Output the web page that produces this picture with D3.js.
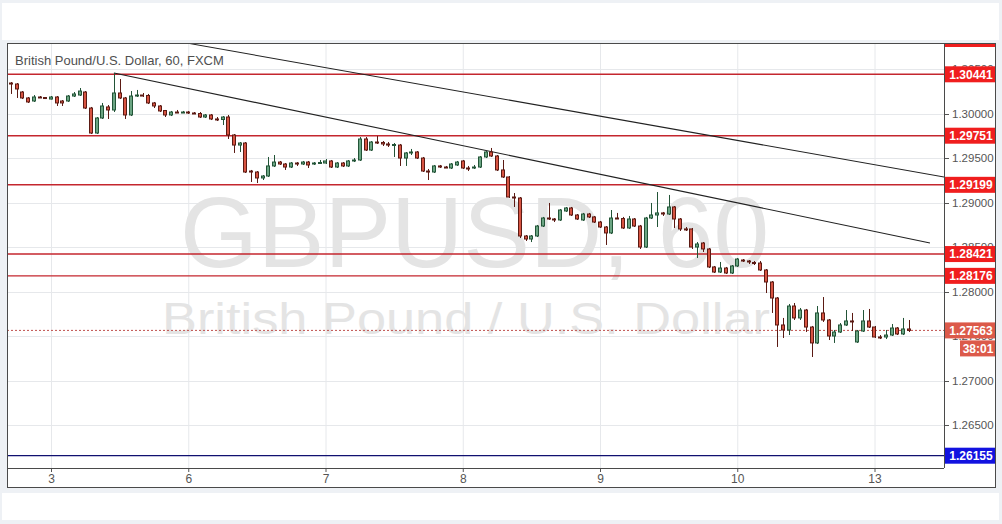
<!DOCTYPE html>
<html><head><meta charset="utf-8">
<script src="https://cdn.jsdelivr.net/npm/d3@7"></script>
<style>
html,body{margin:0;padding:0;background:#eef1f5;}
svg{display:block;font-family:"Liberation Sans",Arial,sans-serif;}
</style></head>
<body>
<svg id="c" width="1002" height="524"></svg>
<script>
// ---- data ----
const dayLabels = ["3","6","7","8","9","10","13"];
const dayIndex  = [7,31,55,79,103,127,151];
const priceTicks = [1.265,1.270,1.275,1.280,1.285,1.290,1.295,1.300,1.305];
const levelPrices = [1.30441,1.29751,1.29199,1.28421,1.28176];
const supportPrice = 1.26155;
const lastPrice = 1.27563;
const countdown = "38:01";
const title = "British Pound/U.S. Dollar, 60, FXCM";
const wmSymbol = "GBPUSD, 60";
const wmName = "British Pound / U.S. Dollar";
// trend lines: [barIndex, price]
const trendA = [[18,1.30456],[160.7,1.28545]];
const trendB = [[31,1.30789],[163.2,1.29287]];

const open = [1.30343,1.30332,1.30242,1.30175,1.30141,1.30186,1.30180,1.30163,1.30186,1.30141,
1.30141,1.30197,1.30208,1.30242,1.30062,1.29781,1.29950,1.30074,1.30040,1.30231,
1.30175,1.29984,1.30197,1.30208,1.30203,1.30119,1.30085,1.30034,1.29984,1.30017,
1.30012,1.30017,1.30006,1.30000,1.29961,1.29984,1.29939,1.29933,1.29961,1.29759,
1.29646,1.29669,1.29354,1.29343,1.29276,1.29298,1.29411,1.29455,1.29433,1.29399,
1.29444,1.29433,1.29455,1.29433,1.29444,1.29444,1.29467,1.29399,1.29444,1.29411,
1.29467,1.29478,1.29714,1.29590,1.29680,1.29675,1.29658,1.29646,1.29646,1.29500,
1.29557,1.29568,1.29500,1.29354,1.29343,1.29411,1.29399,1.29388,1.29422,1.29467,
1.29388,1.29388,1.29399,1.29512,1.29568,1.29523,1.29366,1.29287,1.29062,1.29051,
1.28624,1.28590,1.28624,1.28736,1.28826,1.28815,1.28804,1.28905,1.28939,1.28860,
1.28804,1.28871,1.28838,1.28781,1.28725,1.28658,1.28826,1.28820,1.28714,1.28815,
1.28736,1.28500,1.28826,1.28860,1.28883,1.28871,1.28950,1.28815,1.28703,1.28703,
1.28500,1.28545,1.28478,1.28276,1.28219,1.28264,1.28208,1.28287,1.28354,1.28343,
1.28326,1.28320,1.28242,1.28107,1.27927,1.27624,1.27568,1.27837,1.27703,1.27792,
1.27601,1.27422,1.27759,1.27680,1.27500,1.27545,1.27624,1.27669,1.27433,1.27556,
1.27669,1.27601,1.27489,1.27489,1.27511,1.27590,1.27523,1.27579];
const high = [1.30354,1.30343,1.30253,1.30186,1.30208,1.30197,1.30186,1.30197,1.30197,1.30152,
1.30208,1.30242,1.30287,1.30253,1.30074,1.29961,1.30119,1.30096,1.30456,1.30388,
1.30186,1.30253,1.30265,1.30231,1.30220,1.30130,1.30096,1.30040,1.30029,1.30040,
1.30029,1.30029,1.30017,1.30017,1.29995,1.29995,1.29961,1.29972,1.29984,1.29770,
1.29680,1.29680,1.29366,1.29354,1.29309,1.29512,1.29534,1.29467,1.29444,1.29455,
1.29455,1.29467,1.29467,1.29455,1.29478,1.29489,1.29478,1.29455,1.29455,1.29478,
1.29500,1.29736,1.29736,1.29691,1.29748,1.29691,1.29680,1.29669,1.29658,1.29568,
1.29602,1.29579,1.29512,1.29377,1.29422,1.29422,1.29411,1.29444,1.29467,1.29478,
1.29411,1.29422,1.29523,1.29579,1.29613,1.29534,1.29478,1.29298,1.29107,1.29062,
1.28635,1.28635,1.28748,1.28838,1.28995,1.28826,1.28927,1.28950,1.28950,1.28871,
1.28883,1.28883,1.28849,1.28793,1.28736,1.28916,1.28883,1.28838,1.28849,1.28826,
1.28748,1.28838,1.28995,1.29118,1.28894,1.29085,1.28961,1.28826,1.28725,1.28714,
1.28556,1.28556,1.28489,1.28287,1.28332,1.28276,1.28298,1.28377,1.28365,1.28354,
1.28343,1.28343,1.28253,1.28118,1.27938,1.27703,1.27860,1.27871,1.27815,1.27804,
1.27613,1.27837,1.27938,1.27691,1.27568,1.27646,1.27792,1.27759,1.27568,1.27792,
1.27804,1.27613,1.27511,1.27568,1.27635,1.27601,1.27703,1.27680];
const low = [1.30220,1.30175,1.30163,1.30119,1.30130,1.30175,1.30163,1.30158,1.30085,1.30085,
1.30130,1.30186,1.30197,1.30051,1.29770,1.29770,1.29939,1.29939,1.30017,1.30163,
1.29939,1.29972,1.30186,1.30186,1.30107,1.30062,1.30017,1.29961,1.29972,1.30006,
1.30006,1.29995,1.29995,1.29950,1.29950,1.29927,1.29916,1.29871,1.29714,1.29557,
1.29568,1.29332,1.29231,1.29219,1.29253,1.29287,1.29399,1.29422,1.29366,1.29388,
1.29411,1.29422,1.29388,1.29422,1.29433,1.29433,1.29388,1.29388,1.29399,1.29399,
1.29455,1.29467,1.29579,1.29579,1.29658,1.29635,1.29624,1.29512,1.29411,1.29411,
1.29534,1.29489,1.29343,1.29253,1.29332,1.29388,1.29388,1.29377,1.29411,1.29377,
1.29354,1.29377,1.29388,1.29500,1.29512,1.29354,1.29276,1.29051,1.28950,1.28601,
1.28568,1.28556,1.28612,1.28725,1.28804,1.28781,1.28793,1.28894,1.28849,1.28804,
1.28793,1.28826,1.28770,1.28714,1.28523,1.28646,1.28815,1.28703,1.28703,1.28725,
1.28478,1.28489,1.28815,1.28725,1.28849,1.28860,1.28714,1.28680,1.28680,1.28478,
1.28377,1.28444,1.28264,1.28208,1.28208,1.28197,1.28197,1.28276,1.28332,1.28309,
1.28298,1.28231,1.27983,1.27759,1.27377,1.27478,1.27511,1.27680,1.27680,1.27545,
1.27264,1.27410,1.27658,1.27455,1.27422,1.27534,1.27613,1.27556,1.27422,1.27545,
1.27590,1.27478,1.27466,1.27466,1.27500,1.27511,1.27511,1.27545];
const close = [1.30338,1.30276,1.30175,1.30130,1.30186,1.30180,1.30169,1.30186,1.30119,1.30119,
1.30197,1.30220,1.30253,1.30062,1.29781,1.29950,1.30085,1.30040,1.30231,1.30175,
1.29984,1.30197,1.30208,1.30203,1.30119,1.30085,1.30029,1.29984,1.30017,1.30012,
1.30017,1.30006,1.30000,1.29961,1.29984,1.29939,1.29933,1.29961,1.29759,1.29646,
1.29669,1.29343,1.29343,1.29276,1.29298,1.29411,1.29455,1.29433,1.29399,1.29444,
1.29433,1.29455,1.29422,1.29444,1.29450,1.29467,1.29399,1.29444,1.29411,1.29467,
1.29478,1.29714,1.29590,1.29680,1.29675,1.29658,1.29646,1.29652,1.29500,1.29557,
1.29568,1.29500,1.29354,1.29343,1.29411,1.29399,1.29394,1.29433,1.29455,1.29388,
1.29377,1.29399,1.29512,1.29568,1.29523,1.29366,1.29287,1.29062,1.29051,1.28624,
1.28590,1.28624,1.28736,1.28826,1.28815,1.28804,1.28916,1.28939,1.28860,1.28815,
1.28871,1.28838,1.28781,1.28725,1.28658,1.28826,1.28820,1.28714,1.28815,1.28736,
1.28500,1.28826,1.28860,1.28883,1.28871,1.28950,1.28815,1.28703,1.28700,1.28500,
1.28534,1.28478,1.28276,1.28219,1.28264,1.28208,1.28287,1.28365,1.28343,1.28332,
1.28320,1.28242,1.28107,1.27927,1.27624,1.27568,1.27837,1.27703,1.27792,1.27601,
1.27422,1.27759,1.27680,1.27500,1.27545,1.27624,1.27669,1.27663,1.27556,1.27669,
1.27601,1.27489,1.27483,1.27511,1.27590,1.27523,1.27579,1.27563];

// ---- layout ----
const svg = d3.select("#c");
const P = {l:7, t:43, r:944, b:468, outerR:996, outerB:488};
const x = d3.scaleLinear().domain([dayIndex[0], dayIndex[dayIndex.length-1]]).range([51, 874.5]);
const y = d3.scaleLinear().domain([supportPrice, levelPrices[0]]).range([455.7, 74.3]);
const step = x(1) - x(0);
const bodyW = Math.max(1, step * 0.7);

// backgrounds
svg.append("rect").attr("x",2).attr("y",3).attr("width",997).attr("height",37).attr("fill","#fff");
svg.append("rect").attr("x",2).attr("y",493).attr("width",997).attr("height",27).attr("fill","#fff");
svg.append("rect").attr("x",P.l).attr("y",P.t).attr("width",P.outerR-P.l).attr("height",P.outerB-P.t).attr("fill","#fff");

svg.append("defs").append("clipPath").attr("id","plotclip")
  .append("rect").attr("x",P.l).attr("y",P.t).attr("width",P.r-P.l).attr("height",P.b-P.t);
svg.append("defs").append("clipPath").attr("id","axisclip")
  .append("rect").attr("x",P.r).attr("y",P.t).attr("width",P.outerR-P.r).attr("height",P.b-P.t);

const plot = svg.append("g").attr("clip-path","url(#plotclip)");

// grid
plot.selectAll("line.vg").data(dayIndex).join("line")
  .attr("x1",d=>x(d)+0.5).attr("x2",d=>x(d)+0.5).attr("y1",P.t).attr("y2",P.b)
  .attr("stroke","#e6e8eb").attr("stroke-width",1);
plot.selectAll("line.hg").data(priceTicks).join("line")
  .attr("x1",P.l).attr("x2",P.r).attr("y1",d=>Math.round(y(d))+0.5).attr("y2",d=>Math.round(y(d))+0.5)
  .attr("stroke","#e6e8eb").attr("stroke-width",1);

// watermark
plot.append("text").attr("x",474.5).attr("y",266.7).attr("text-anchor","middle")
  .attr("font-size",100).attr("fill","#e4e4e4").text(wmSymbol);
plot.append("text").attr("x",162).attr("y",334).attr("font-size",44)
  .attr("textLength",608).attr("lengthAdjust","spacingAndGlyphs")
  .attr("fill","#e4e4e4").text(wmName);

// level lines
plot.selectAll("line.lv").data(levelPrices).join("line")
  .attr("x1",P.l).attr("x2",P.r).attr("y1",d=>y(d)).attr("y2",d=>y(d))
  .attr("stroke","#c4262e").attr("stroke-width",1.4);
plot.append("line").attr("x1",P.l).attr("x2",P.r).attr("y1",y(supportPrice)).attr("y2",y(supportPrice))
  .attr("stroke","#101070").attr("stroke-width",1.3);

// current price dotted line
plot.append("line").attr("x1",P.l).attr("x2",P.r).attr("y1",y(lastPrice)).attr("y2",y(lastPrice))
  .attr("stroke","#c0504d").attr("stroke-width",1).attr("stroke-dasharray","2,2");

// trend lines
const line = d3.line().x(d=>x(d[0])).y(d=>y(d[1]));
[trendA,trendB].forEach(t=>{
  plot.append("path").attr("d",line(t)).attr("fill","none").attr("stroke","#222").attr("stroke-width",1.1);
});

// candles
const bars = d3.range(open.length).map(i=>({i,o:open[i],h:high[i],l:low[i],c:close[i]}));
const upFill="#6ba583", upLine="#225437", dnFill="#d75442", dnLine="#5b1a13";
const g = plot.append("g");
g.selectAll("line.wick").data(bars).join("line")
  .attr("x1",d=>Math.round(x(d.i))+0.5).attr("x2",d=>Math.round(x(d.i))+0.5)
  .attr("y1",d=>y(d.h)).attr("y2",d=>y(d.l))
  .attr("stroke",d=>d.c>=d.o?upLine:dnLine).attr("stroke-width",1);
g.selectAll("rect.body").data(bars).join("rect")
  .attr("x",d=>Math.round(x(d.i)-bodyW/2)+0.5)
  .attr("y",d=>y(Math.max(d.o,d.c)))
  .attr("width",Math.round(bodyW)-1)
  .attr("height",d=>Math.max(1,Math.abs(y(d.o)-y(d.c))))
  .attr("fill",d=>d.c>=d.o?upFill:dnFill)
  .attr("stroke",d=>d.c>=d.o?upLine:dnLine).attr("stroke-width",1);

// title
svg.append("text").attr("x",15).attr("y",65).attr("font-size",13).attr("fill","#4f4f4f").text(title);

// ---- price axis ----
const ax = svg.append("g").attr("clip-path","url(#axisclip)");
ax.selectAll("line.pt").data(priceTicks).join("line")
  .attr("x1",P.r).attr("x2",P.r+5).attr("y1",d=>Math.round(y(d))+0.5).attr("y2",d=>Math.round(y(d))+0.5)
  .attr("stroke","#555");
ax.selectAll("text.pt").data(priceTicks).join("text")
  .attr("x",952).attr("y",d=>y(d)).attr("dy","0.35em").attr("font-size",11.5).attr("fill","#555")
  .text(d=>d.toFixed(5));
// red strip at top (off-screen level)
ax.append("rect").attr("x",P.r).attr("y",P.t).attr("width",P.outerR-P.r).attr("height",4).attr("fill","#f01e1e");

function label(price, txt, fill, x0){
  const yy = y(price);
  ax.append("rect").attr("x",x0).attr("y",yy-8).attr("width",P.outerR-x0).attr("height",16).attr("fill",fill);
  ax.append("text").attr("x",(x0+P.outerR)/2+1).attr("y",yy).attr("dy","0.36em").attr("text-anchor","middle")
    .attr("font-size",12).attr("font-weight","bold").attr("fill","#fff").text(txt);
}
levelPrices.forEach(p=>label(p,p.toFixed(5),"#f01e1e",P.r));
label(supportPrice, supportPrice.toFixed(5), "#1212e0", P.r);
label(lastPrice, lastPrice.toFixed(5), "#dc5a4a", P.r);
// countdown box
{
  const yy = y(lastPrice)+18;
  ax.append("rect").attr("x",960).attr("y",yy-8).attr("width",P.outerR-960).attr("height",16).attr("fill","#dc5a4a");
  ax.append("text").attr("x",(960+P.outerR)/2).attr("y",yy).attr("dy","0.36em").attr("text-anchor","middle")
    .attr("font-size",12).attr("font-weight","bold").attr("fill","#fff").text(countdown);
}

// ---- time axis ----
svg.selectAll("line.tt").data(dayIndex).join("line")
  .attr("x1",d=>x(d)+0.5).attr("x2",d=>x(d)+0.5).attr("y1",P.b).attr("y2",P.b+4).attr("stroke","#555");
svg.selectAll("text.tt").data(dayIndex).join("text")
  .attr("x",d=>x(d)+0.5).attr("y",479).attr("dy","0.35em").attr("text-anchor","middle")
  .attr("font-size",12).attr("fill","#555").text((d,i)=>dayLabels[i]);

// frame
svg.append("rect").attr("x",P.l+0.5).attr("y",P.t+0.5).attr("width",P.outerR-P.l-1).attr("height",P.outerB-P.t-1)
  .attr("fill","none").attr("stroke","#4a4a4a");
svg.append("line").attr("x1",P.r+0.5).attr("x2",P.r+0.5).attr("y1",P.t).attr("y2",P.b).attr("stroke","#4a4a4a");
svg.append("line").attr("x1",P.l).attr("x2",P.r).attr("y1",P.b+0.5).attr("y2",P.b+0.5).attr("stroke","#4a4a4a");
</script>
</body></html>
